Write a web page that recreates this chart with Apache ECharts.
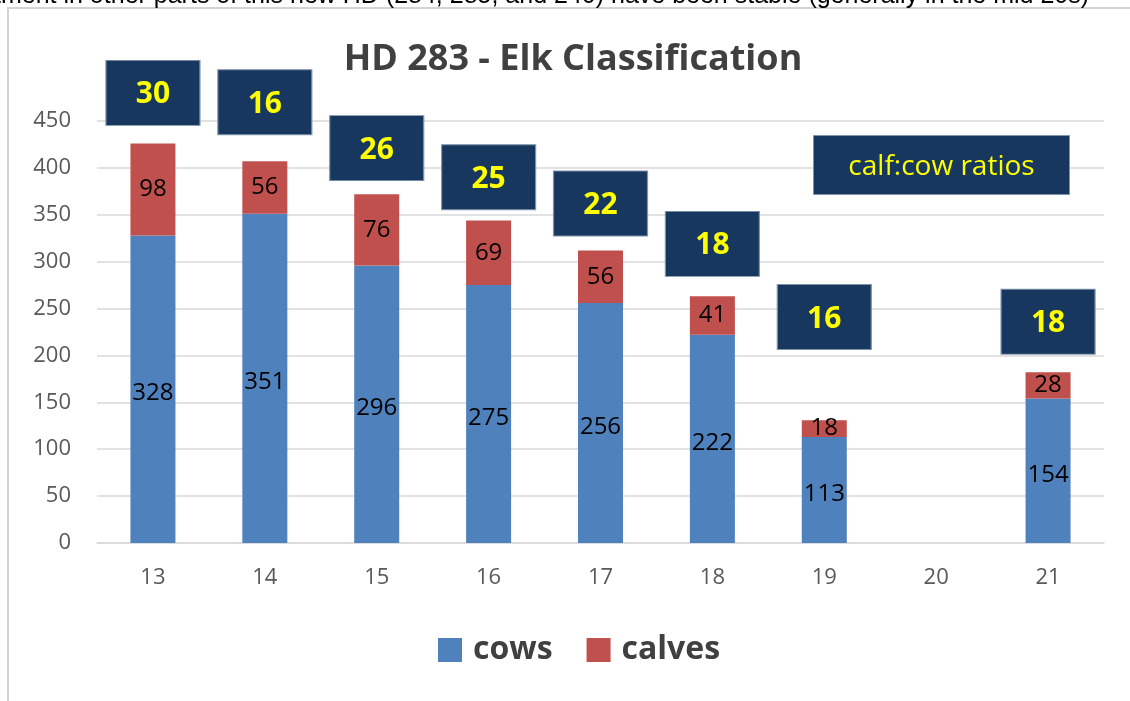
<!DOCTYPE html>
<html>
<head>
<meta charset="utf-8">
<style>
  html, body { margin: 0; padding: 0; background: #fff; }
  #chart { width: 1130px; height: 701px; }
</style>
<script src="https://cdn.jsdelivr.net/npm/echarts@6/dist/echarts.min.js"></script>
</head>
<body>
<div id="chart"></div>
<script>
// hunting districts (x axis)
const districts = ['13', '14', '15', '16', '17', '18', '19', '20', '21'];
const cows = [328, 351, 296, 275, 256, 222, 113, null, 154];
const calves = [98, 56, 76, 69, 56, 41, 18, null, 28];
// calf:cow ratios and the axis value each callout box is centred on
const ratios = [30, 16, 26, 25, 22, 18, 16, null, 18];
const ratioAt = [480, 470, 421, 390, 362, 319, 241, null, 236];
const yTicks = { min: 0, max: 450, interval: 50 };

const FONT = '"Open Sans", "Noto Sans", sans-serif';
const NAVY = '#17375e';

const chart = echarts.init(document.getElementById('chart'));

const ratioPoints = ratios
  .map((r, i) => (r == null ? null : [i, ratioAt[i], r]))
  .filter((p) => p);

chart.setOption({
  animation: false,
  backgroundColor: '#fff',
  textStyle: { fontFamily: FONT },
  title: {
    text: 'HD 283 - Elk Classification',
    left: 568,
    textAlign: 'center',
    top: 37,
    textStyle: { fontSize: 36, fontWeight: 'bold', color: '#404040', fontFamily: FONT },
  },
  grid: { left: 97, right: 26, top: 121, bottom: 158 },
  legend: {
    data: ['cows', 'calves'],
    bottom: 30,
    left: 433,
    icon: 'rect',
    itemWidth: 24,
    itemHeight: 24,
    itemGap: 34,
    textStyle: {
      fontSize: 32,
      fontWeight: 'bold',
      color: '#404040',
      fontFamily: FONT,
      padding: [0, 0, 0, 6],
    },
  },
  xAxis: {
    type: 'category',
    data: districts,
    axisTick: { show: false },
    axisLine: { lineStyle: { color: '#d9d9d9', width: 1.5 } },
    axisLabel: { fontSize: 22, color: '#595959', margin: 24 },
  },
  yAxis: {
    type: 'value',
    min: yTicks.min,
    max: yTicks.max,
    interval: yTicks.interval,
    axisLine: { show: false },
    axisTick: { show: false },
    axisLabel: { fontSize: 22, color: '#595959', margin: 26 },
    splitLine: { lineStyle: { color: '#d9d9d9', width: 1.5 } },
  },
  series: [
    {
      name: 'cows',
      type: 'bar',
      stack: 'elk',
      barWidth: 45,
      data: cows,
      itemStyle: { color: '#4f81bd' },
      label: { show: true, position: 'inside', color: '#000', fontSize: 24, offset: [0, 4] },
    },
    {
      name: 'calves',
      type: 'bar',
      stack: 'elk',
      barWidth: 45,
      data: calves,
      itemStyle: { color: '#c0504d' },
      label: { show: true, position: 'inside', color: '#000', fontSize: 24 },
    },
    {
      name: 'ratio',
      type: 'scatter',
      clip: false,
      z: 5,
      symbol: 'rect',
      symbolSize: [94, 65],
      data: ratioPoints,
      itemStyle: { color: NAVY, borderColor: '#7f93ad', borderWidth: 1, opacity: 1 },
      label: {
        show: true,
        position: 'inside',
        formatter: (p) => String(p.value[2]),
        color: '#ffff00',
        fontSize: 30,
        fontWeight: 'bold',
        offset: [0, 2],
      },
      emphasis: { disabled: true },
    },
  ],
  graphic: [
    // frame of the embedded chart
    {
      type: 'rect',
      z: -10,
      silent: true,
      shape: { x: 8, y: 8, width: 1200, height: 800 },
      style: { fill: '#fff', stroke: '#d4d4d4', lineWidth: 2 },
    },
    // cut-off line of page text above the chart
    {
      type: 'text',
      z: -5,
      silent: true,
      style: {
        x: -6,
        y: 9,
        text: 'tment in other parts of this new HD (284, 285, and 240) have been stable (generally in the mid 20s)',
        font: '25px "Liberation Sans", Arial, sans-serif',
        fill: '#000',
        verticalAlign: 'bottom',
      },
    },
    // callout box
    {
      type: 'group',
      left: 813,
      top: 135,
      z: 100,
      children: [
        {
          type: 'rect',
          z: 100,
          shape: { width: 256, height: 59 },
          style: { fill: NAVY, stroke: '#7f93ad', lineWidth: 1 },
        },
        {
          type: 'text',
          z: 101,
          style: {
            x: 128,
            y: 32,
            text: 'calf:cow ratios',
            font: '28px ' + FONT,
            fill: '#ffff00',
            align: 'center',
            verticalAlign: 'middle',
          },
        },
      ],
    },
  ],
});
</script>
</body>
</html>
